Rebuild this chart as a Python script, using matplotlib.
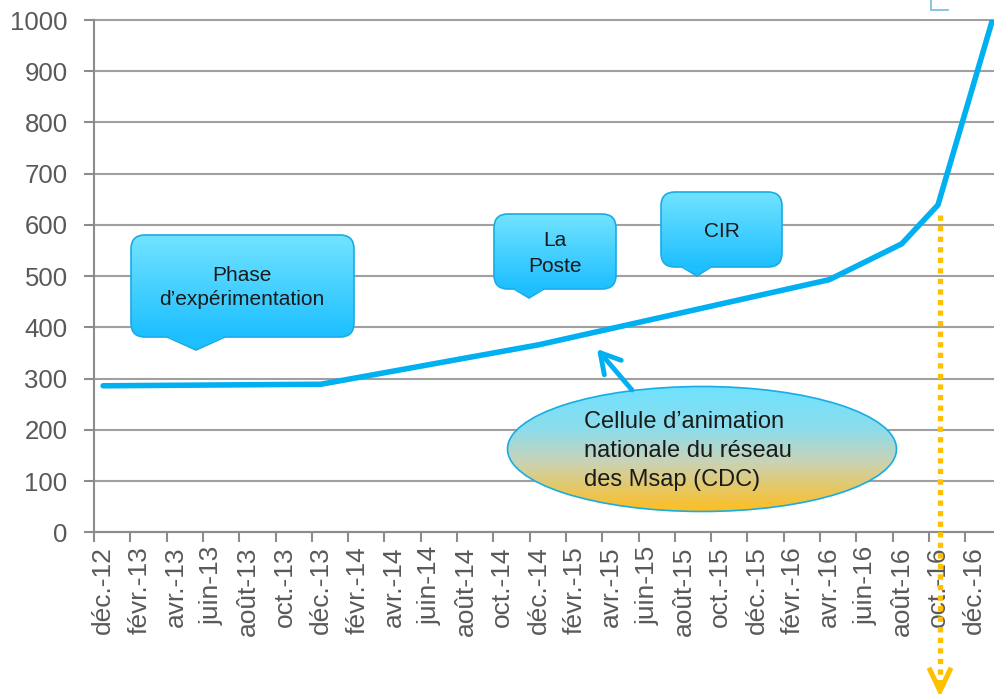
import numpy as np
import matplotlib
matplotlib.use("Agg")
import matplotlib.pyplot as plt
from matplotlib.path import Path
from matplotlib.patches import PathPatch, Ellipse, Rectangle
from matplotlib.colors import LinearSegmentedColormap

plt.rcParams['font.family'] = ['Liberation Sans', 'DejaVu Sans']

# monthly categories from déc.-12 to janv.-17, one label every two months
tick_labels = ["déc.-12", "févr.-13", "avr.-13", "juin-13", "août-13", "oct.-13",
               "déc.-13", "févr.-14", "avr.-14", "juin-14", "août-14", "oct.-14",
               "déc.-14", "févr.-15", "avr.-15", "juin-15", "août-15", "oct.-15",
               "déc.-15", "févr.-16", "avr.-16", "juin-16", "août-16", "oct.-16",
               "déc.-16"]
n_months = 50

# known points of the series (month index, number of Msap)
point_month = [0, 12, 24, 40, 44, 46, 49]
point_value = [286, 289, 366, 493, 563, 639, 1000]

W, H = 994, 694
fig = plt.figure(figsize=(W / 100, H / 100), dpi=100)
fig.patch.set_facecolor("white")

# plot area (right edge falls outside the picture, like the original crop)
ax_left, ax_bottom = 94, 532.3
cat_w = 18.15
ax = fig.add_axes([ax_left / W, (H - ax_bottom) / H,
                   cat_w * n_months / W, (ax_bottom - 20) / H])
ax.set_zorder(1)

grid_col = "#A0A0A0"
axis_col = "#8C8C8C"
label_col = "#595959"

ax.plot(point_month, point_value, color="#00B0F0", lw=4.0,
        solid_capstyle="round", solid_joinstyle="round", zorder=3)

ax.set_xlim(-0.5, n_months - 0.5)
ax.set_ylim(0, 1000)
ax.set_yticks(np.arange(0, 1001, 100))
ax.yaxis.grid(True, color=grid_col, lw=1.5)
ax.set_axisbelow(True)
for gl in ax.get_ygridlines():
    gl.set_clip_on(False)

ax.set_xticks(np.arange(0, 2 * len(tick_labels), 2))
ax.set_xticklabels(tick_labels, rotation=90)
ax.set_xticks(np.arange(-0.5, n_months, 2), minor=True)
ax.tick_params(axis="x", which="major", length=0, pad=10, labelsize=19,
               labelcolor=label_col)
ax.tick_params(axis="x", which="minor", length=7, width=1.5, color=axis_col)
ax.tick_params(axis="y", length=7, width=1.5, color=axis_col, pad=12,
               labelsize=18.5, labelcolor=label_col)

for side in ["top", "right"]:
    ax.spines[side].set_visible(False)
for side in ["left", "bottom"]:
    ax.spines[side].set_color(axis_col)
    ax.spines[side].set_linewidth(1.5)

# overlay in pixel coordinates for the callouts
ov = fig.add_axes([0, 0, 1, 1])
ov.set_zorder(2)
ov.patch.set_visible(False)
ov.axis("off")

blue_cmap = LinearSegmentedColormap.from_list("bl", ["#72E3FF", "#1DBFFF"])
oval_cmap = LinearSegmentedColormap.from_list(
    "ov", [(0, "#6EE2FF"), (0.35, "#8EDCEA"), (0.6, "#C9D3B6"), (1, "#FFBE1E")])
grad = np.linspace(0, 1, 256).reshape(-1, 1)
border = "#18ACE6"


def bubble(x0, y0, x1, y1, tl, tip, tr, r=14):
    verts = [(x0 + r, y0), (x1 - r, y0), (x1, y0), (x1, y0 + r),
             (x1, y1 - r), (x1, y1), (x1 - r, y1), (tr, y1), tip, (tl, y1),
             (x0 + r, y1), (x0, y1), (x0, y1 - r), (x0, y0 + r), (x0, y0),
             (x0 + r, y0), (x0 + r, y0)]
    codes = [Path.MOVETO, Path.LINETO, Path.CURVE3, Path.CURVE3,
             Path.LINETO, Path.CURVE3, Path.CURVE3, Path.LINETO, Path.LINETO,
             Path.LINETO, Path.LINETO, Path.CURVE3, Path.CURVE3, Path.LINETO,
             Path.CURVE3, Path.CURVE3, Path.CLOSEPOLY]
    patch = PathPatch(Path(verts, codes), facecolor="none", edgecolor=border,
                      lw=1.2, zorder=5)
    ov.add_patch(patch)
    im = ov.imshow(grad, extent=(x0, x1, y1, y0), aspect="auto",
                   cmap=blue_cmap, zorder=4)
    im.set_clip_path(patch)
    # tail colour below the box
    ov.add_patch(PathPatch(Path([(tl, y1 - 1), tip, (tr, y1 - 1), (tl, y1 - 1)]),
                           facecolor="#1DBFFF", edgecolor="none", zorder=4))


bubble(131, 235, 354, 337, 167, (196, 350), 225)
ov.text(242, 275, "Phase", ha="center", va="center", fontsize=15, color="#1A1A1A", zorder=6)
ov.text(242, 299, "d’expérimentation", ha="center", va="center", fontsize=15,
        color="#1A1A1A", zorder=6)

bubble(494, 214, 616, 289, 514, (529, 298), 544)
ov.text(555, 240, "La", ha="center", va="center", fontsize=15, color="#1A1A1A", zorder=6)
ov.text(555, 266, "Poste", ha="center", va="center", fontsize=15, color="#1A1A1A", zorder=6)

bubble(661, 192, 782, 267, 682, (697, 276), 711)
ov.text(722, 231, "CIR", ha="center", va="center", fontsize=15, color="#1A1A1A", zorder=6)

# oval with gradient
oval = Ellipse((702, 449), 389, 125, facecolor="none", edgecolor=border, lw=1.2, zorder=5)
ov.add_patch(oval)
im = ov.imshow(grad, extent=(507, 897, 512, 386), aspect="auto", cmap=oval_cmap, zorder=4)
im.set_clip_path(oval)
for txt, yy in zip(["Cellule d’animation", "nationale du réseau", "des Msap (CDC)"],
                   [422, 451, 480]):
    ov.text(584, yy, txt, ha="left", va="center", fontsize=17, color="#1A1A1A", zorder=6)

ov.annotate("", xy=(597, 349), xytext=(632, 390),
            arrowprops=dict(arrowstyle="->,head_length=0.7,head_width=0.4",
                            mutation_scale=20, lw=3.5, color="#00B0F0",
                            capstyle="round", joinstyle="round", shrinkA=0, shrinkB=0),
            zorder=6)

# dotted orange arrow down from oct.-16
ov.plot([940, 940], [215, 688], color="#FFC000", lw=3.8, linestyle=(0, (1, 1)),
        dash_capstyle="butt", zorder=6)
ov.plot([930, 940, 950], [670, 691, 670], color="#FFC000", lw=3.6,
        solid_joinstyle="miter", zorder=6)

# cut-off shape at the top right corner
ov.add_patch(Rectangle((918, 0), 80, 19.2, facecolor="white", edgecolor="none", zorder=5))
ov.plot([931, 931, 948], [0, 10, 10], color="#7FC0E0", lw=1.3, zorder=6)

ov.set_xlim(0, W)
ov.set_ylim(H, 0)

fig.savefig("out.png", dpi=100)
